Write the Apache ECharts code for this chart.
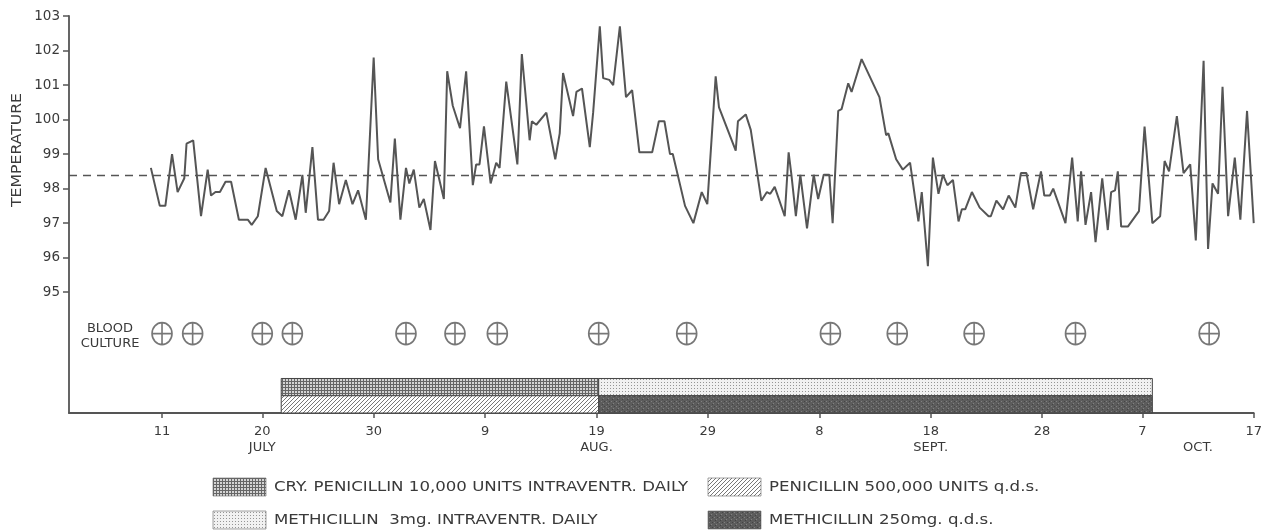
<!DOCTYPE html>
<html lang="en">
<head>
	<meta charset="UTF-8">
	<title>Temperature chart</title>
	<style>html,body{margin:0;padding:0;background:#fff;}</style>
</head>
<body>
<div id="chart" style="width:1265px;height:532px;"></div>
<script src="https://cdn.jsdelivr.net/npm/echarts@6/dist/echarts.min.js"></script>
<script>
// day numbers count from 1 July (1 Aug = 32, 1 Sept = 63, 1 Oct = 93)
var days = [10.0,10.8,11.3,11.9,12.4,13.0,13.2,13.8,14.5,15.1,15.4,15.8,16.2,16.7,17.2,17.9,18.7,19.05,19.6,20.3,
	21.3,21.8,22.4,23.0,23.6,23.9,24.5,25.0,25.5,26.0,26.4,26.9,27.5,28.1,28.6,29.3,30.0,30.4,31.5,31.9,
	32.4,32.9,33.2,33.6,34.1,34.5,35.1,35.5,36.3,36.6,37.1,37.75,38.3,38.9,39.2,39.5,39.9,40.5,41.0,41.3,
	41.9,42.9,43.3,44.0,44.2,44.6,45.5,46.3,46.7,47.0,47.9,48.2,48.7,49.4,49.7,50.3,50.6,51.15,51.5,52.1,
	52.65,53.2,53.85,55.0,55.6,56.1,56.6,56.85,57.95,58.7,59.45,59.95,60.7,61.0,62.5,62.7,63.4,63.85,64.8,65.3,
	65.6,66.0,66.9,67.25,67.5,67.9,68.3,68.9,69.5,69.9,70.4,70.9,71.2,71.7,72.0,72.6,72.9,73.8,75.4,76.0,
	76.2,76.9,77.5,78.15,78.9,79.2,79.75,80.2,80.7,81.1,81.5,82.0,82.5,82.8,83.1,83.7,84.4,85.2,85.4,85.9,
	86.5,87.0,87.6,88.1,88.6,89.2,89.9,90.2,90.7,91.0,92.1,92.7,93.2,93.5,93.9,94.4,94.8,95.4,95.9,96.2,
	96.55,96.8,97.1,97.7,98.7,99.2,99.9,100.6,101.0,101.4,102.1,102.7,103.3,103.8,104.5,104.9,105.3,105.8,106.2,106.7,
	107.3,107.8,108.4,109.0];
var temps = [98.6,97.5,97.5,99.0,97.9,98.3,99.3,99.4,97.2,98.55,97.8,97.9,97.9,98.2,98.2,97.1,97.1,96.95,97.2,98.6,
	97.35,97.2,97.95,97.1,98.4,97.3,99.2,97.1,97.1,97.35,98.75,97.55,98.25,97.55,97.95,97.1,101.8,98.85,97.6,99.45,
	97.1,98.6,98.15,98.55,97.45,97.7,96.8,98.8,97.7,101.4,100.4,99.75,101.4,98.1,98.7,98.7,99.8,98.15,98.75,98.6,
	101.1,98.7,101.9,99.4,99.95,99.85,100.2,98.85,99.6,101.35,100.1,100.8,100.9,99.2,100.2,102.7,101.2,101.15,101.0,102.7,
	100.65,100.85,99.05,99.05,99.95,99.95,99.0,99.0,97.5,97.0,97.9,97.55,101.25,100.35,99.1,99.95,100.15,99.7,97.65,97.9,
	97.85,98.05,97.2,99.05,98.4,97.2,98.4,96.85,98.4,97.7,98.4,98.4,97.0,100.25,100.3,101.05,100.8,101.75,100.65,99.55,
	99.6,98.85,98.55,98.75,97.05,97.9,95.75,98.9,97.85,98.4,98.1,98.25,97.05,97.4,97.4,97.9,97.45,97.2,97.2,97.65,
	97.4,97.8,97.45,98.45,98.45,97.4,98.5,97.8,97.8,98.0,97.0,98.9,97.05,98.5,96.95,97.9,96.45,98.3,96.8,97.9,
	97.95,98.5,96.9,96.9,97.35,99.8,97.0,97.2,98.8,98.5,100.1,98.45,98.7,96.5,101.7,96.25,98.15,97.85,100.95,97.2,
	98.9,97.1,100.25,97.0];
var normalTemp = 98.4;

var cultureDays = [11, 13.75, 20, 22.7, 32.9, 37.3, 41.1, 50.2, 58.1, 71, 77, 83.9, 93, 105];

var treatNames = ['CRY. PENICILLIN 10,000 UNITS INTRAVENTR. DAILY', 'PENICILLIN 500,000 UNITS q.d.s.',
	'METHICILLIN  3mg. INTRAVENTR. DAILY', 'METHICILLIN 250mg. q.d.s.'];
var treatStart = [21.7, 21.7, 50.2, 50.2];
var treatEnd = [50.2, 50.2, 99.9, 99.9];
var treatRow = [0, 1, 0, 1];   // 0 = upper strip, 1 = lower strip

var tickDays = [11, 20, 30, 40, 50, 60, 70, 80, 90, 99, 109];
var labelDays = [11, 20, 30, 40, 50, 60, 70, 80, 90, 99, 104, 109];
var dayLabels = ['11', '20\nJULY', '30', '9', '19\nAUG.', '29', '8', '18\nSEPT.', '28', '7', '\nOCT.', '17'];
var tempTicks = [95, 96, 97, 98, 99, 100, 101, 102, 103];

// fill patterns for the treatment strips
function pattern(size, draw) {
	var c = document.createElement('canvas');
	c.width = size; c.height = size;
	draw(c.getContext('2d'));
	return { image: c, repeat: 'repeat' };
}
var fills = [
	pattern(3, function (g) { g.fillStyle = '#d4d4d4'; g.fillRect(0, 0, 3, 3); g.fillStyle = '#666'; g.fillRect(0, 0, 3, 1); g.fillRect(0, 0, 1, 3); }),
	pattern(4, function (g) { g.fillStyle = '#fff'; g.fillRect(0, 0, 4, 4); g.fillStyle = '#777'; for (var i = 0; i < 4; i++) g.fillRect(i, 3 - i, 1, 1); }),
	pattern(3, function (g) { g.fillStyle = '#f1f1f1'; g.fillRect(0, 0, 3, 3); g.fillStyle = '#959595'; g.fillRect(1, 1, 1, 1); }),
	pattern(5, function (g) {
		g.fillStyle = '#5c5c5c'; g.fillRect(0, 0, 5, 5);
		g.fillStyle = '#808080'; g.fillRect(1, 1, 1, 1); g.fillRect(3, 3, 1, 1);
		g.fillStyle = '#444'; g.fillRect(4, 1, 1, 1); g.fillRect(2, 4, 1, 1);
	})
];

var ink = '#555';
var textInk = '#3a3a3a';
var font = 'DejaVu Sans';

var myChart = echarts.init(document.getElementById('chart'));

// legend built from the treatment names; the printed type is wide, so stretch it
var legendItems = [];
var legendX = [213, 708], legendY = [478, 511];
treatNames.forEach(function (name, i) {
	var col = i % 2, row = Math.floor(i / 2);
	legendItems.push({
		type: 'rect', x: legendX[col], y: legendY[row],
		shape: { width: 53, height: 18 },
		style: { fill: fills[i], stroke: '#666', lineWidth: 0.6 }
	});
	legendItems.push({
		type: 'text', x: legendX[col] + 61, y: legendY[row] + 9, scaleX: 1.23,
		style: { text: name, fill: textInk, font: '13.5px ' + font, verticalAlign: 'middle' }
	});
});

var option = {
	animation: false,
	grid: { left: 69, right: 11, top: 16, bottom: 119 },
	xAxis: {
		type: 'value', min: 2.65, max: 109,
		splitLine: { show: false },
		axisLine: { show: true, onZero: false, lineStyle: { color: ink, width: 1.8 } },
		axisTick: { show: true, customValues: tickDays, length: 5, lineStyle: { color: ink, width: 1.5 } },
		axisLabel: {
			customValues: labelDays, color: textInk, fontFamily: font, fontSize: 13, lineHeight: 16, margin: 11,
			formatter: function (v) { var k = labelDays.indexOf(v); return k < 0 ? '' : dayLabels[k]; }
		}
	},
	yAxis: {
		type: 'value', min: 91.5, max: 103,
		splitLine: { show: false },
		axisLine: { show: true, onZero: false, lineStyle: { color: ink, width: 1.8 } },
		axisTick: { show: true, customValues: tempTicks, length: 6, lineStyle: { color: ink, width: 1.5 } },
		axisLabel: { customValues: tempTicks, color: textInk, fontFamily: font, fontSize: 13.5, margin: 9 }
	},
	graphic: [
		{ type: 'text', x: 17, y: 150, rotation: Math.PI / 2, scaleX: 1.12,
		  style: { text: 'TEMPERATURE', fill: textInk, font: '14px ' + font, align: 'center', verticalAlign: 'middle' } },
		{ type: 'text', x: 110, y: 336,
		  style: { text: 'BLOOD\nCULTURE', fill: textInk, font: '13px ' + font, lineHeight: 15, align: 'center', verticalAlign: 'middle' } }
	].concat(legendItems),
	series: [
		{
			name: 'TEMPERATURE', type: 'line',
			data: days.map(function (d, i) { return [d, temps[i]]; }),
			showSymbol: false,
			lineStyle: { color: ink, width: 2 },
			markLine: {
				silent: true, symbol: 'none', label: { show: false },
				lineStyle: { color: ink, width: 1.4, type: [8, 6] },
				data: [{ yAxis: normalTemp }]
			}
		},
		{
			name: 'BLOOD CULTURE', type: 'scatter',
			data: cultureDays.map(function (d) { return [d, 93.8]; }),
			symbol: 'path://M10,0 A10,10 0 1 1 10,20 A10,10 0 1 1 10,0 Z M10,0 L10,20 M0,10 L20,10',
			symbolKeepAspect: false,
			symbolSize: [20, 22],
			itemStyle: { color: '#fff', borderColor: ink, borderWidth: 1.7 }
		},
		{
			name: 'TREATMENT', type: 'custom',
			data: treatStart.map(function (s, i) { return [s, treatEnd[i], treatRow[i], i]; }),
			encode: { x: [0, 1] },
			renderItem: function (params, api) {
				var top = api.value(2) === 0 ? 92.5 : 92.0;
				var p0 = api.coord([api.value(0), top]);
				var p1 = api.coord([api.value(1), top - 0.5]);
				return {
					type: 'rect',
					shape: { x: p0[0], y: p0[1], width: p1[0] - p0[0], height: p1[1] - p0[1] },
					style: { fill: fills[api.value(3)], stroke: '#444', lineWidth: 1 }
				};
			}
		}
	]
};
myChart.setOption(option);
</script>
</body>
</html>
